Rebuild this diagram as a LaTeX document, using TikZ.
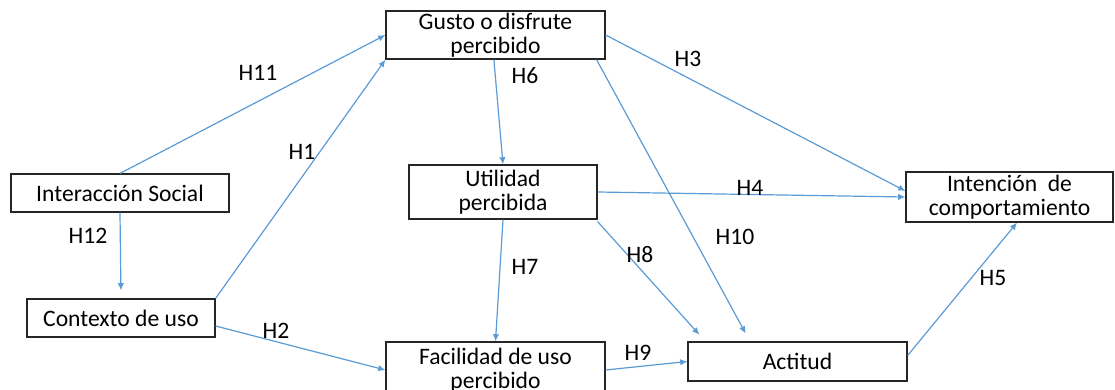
\documentclass[tikz,border=0pt]{standalone}
\usepackage{fontspec}
\setmainfont{Carlito}
\usetikzlibrary{arrows.meta,calc}
\definecolor{linkblue}{RGB}{91,155,213}
\tikzset{
  box/.style={draw=black!85,line width=0.6pt,fill=white,align=center,inner sep=1pt,
              font=\fontsize{11.8}{12}\selectfont},  % construct
  link/.style={-{Latex[length=3.6pt,width=3.2pt]},linkblue,line width=0.6pt},
  hyp/.style={inner sep=0pt,font=\fontsize{11.8}{12}\selectfont},  % H label
}

\begin{document}
\begin{tikzpicture}[x=0.5pt,y=-0.5pt]
  \useasboundingbox (0,0) rectangle (1115,390);
  % constructs
  \node[box,minimum width=109.5pt,minimum height=23pt] (gusto) at (495.5,35) {Gusto o disfrute\\percibido};
  \node[box,minimum width=94pt,minimum height=27pt] (util) at (503,192) {Utilidad\\percibida};
  \node[box,minimum width=109pt,minimum height=19pt] (social) at (120,193) {Interacción Social};
  \node[box,minimum width=94pt,minimum height=19pt] (contexto) at (121,318) {Contexto de uso};
  \node[box,minimum width=103.5pt,minimum height=25pt] (intencion) at (1009.5,197) {Intención\ \ de\\comportamiento};
  \node[box,minimum width=109.5pt,minimum height=19.5pt] (actitud) at (797.5,361.5) {Actitud};
  \node[box,minimum width=109.5pt,minimum height=28pt,text depth=0pt] (facil) at (495.5,370) {\raisebox{1.5pt}{Facilidad de uso}\\\raisebox{1.5pt}{percibido}};
  % hypotheses
  \draw[link] (social.north) -- (gusto.west);
  \draw[link] (contexto.north east) -- (gusto.south west);
  \draw[link,shorten >=4pt] (social.south) -- (contexto.north);
  \draw[link] ([yshift=-4pt]contexto.east) -- (facil.west);
  \draw[link] ([xshift=-0.8pt]gusto.south) -- (util.north);
  \draw[link] (gusto.east) -- ([yshift=3pt]intencion.west);
  \draw[link,shorten >=4.5pt] ([xshift=-4.5pt]gusto.south east) -- ([xshift=-23.75pt]actitud.north);
  \draw[link] (util.east) -- (intencion.west);
  \draw[link] (util.south) -- (facil.north);
  \draw[link,shorten >=4.5pt] ([yshift=-1pt]util.south east) -- ([xshift=9pt]actitud.north west);
  \draw[link] (facil.east) -- (actitud.west);
  \draw[link] ([yshift=3pt]actitud.east) -- ([xshift=3.75pt]intencion.south);
  % labels
  \node[hyp] (h11) at (258,73) {H11};
  \node[hyp] (h1) at (302,152) {H1};
  \node[hyp] (h12) at (88,236) {H12};
  \node[hyp] (h2) at (276,331) {H2};
  \node[hyp] (h6) at (525,76) {H6};
  \node[hyp] (h3) at (688,59) {H3};
  \node[hyp] (h10) at (735,237) {H10};
  \node[hyp] (h4) at (750,188) {H4};
  \node[hyp] (h7) at (525,267) {H7};
  \node[hyp] (h8) at (640,255) {H8};
  \node[hyp] (h9) at (638,353) {H9};
  \node[hyp] (h5) at (993,278) {H5};
\end{tikzpicture}
\end{document}
